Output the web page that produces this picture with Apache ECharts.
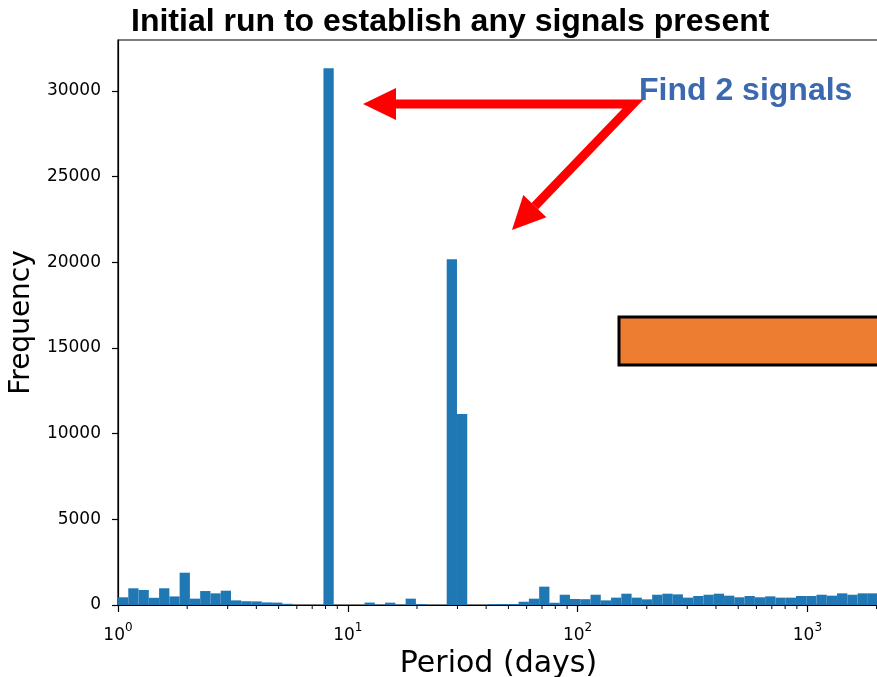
<!DOCTYPE html>
<html>
<head>
<meta charset="utf-8">
<script src="https://cdn.jsdelivr.net/npm/echarts@6/dist/echarts.min.js"></script>
<style>
  html, body { margin: 0; padding: 0; background: #ffffff; }
  #chart { width: 877px; height: 677px; }
</style>
</head>
<body>
<div id="chart"></div>
<script>
// Histogram of detected periods, log-spaced bins beginning at 1 day.
const LOG_BIN_WIDTH = 0.0447;          // width of each bin, in decades
const binCounts = [
  450, 975, 875, 420, 975, 500, 1885, 370, 815, 680,
  835, 270, 220, 210, 150, 140, 70, 0, 0, 0,
  31330, 0, 0, 0, 140, 10, 135, 10, 370, 50,
  0, 0, 20180, 11150, 0, 0, 50, 55, 60, 190,
  370, 1070, 130, 600, 350, 340, 600, 270, 430, 660,
  430, 330, 600, 660, 620, 430, 525, 600, 660, 545,
  450, 525, 450, 505, 430, 430, 525, 525, 600, 545,
  680, 600, 680, 680
];
const majorTickExponents = [0, 1, 2, 3];
const minorTickPeriods = [
  2, 3, 4, 5, 6, 7, 8, 9,
  20, 30, 40, 50, 60, 70, 80, 90,
  200, 300, 400, 500, 600, 700, 800, 900,
  2000
];
const yTickValues = [0, 5000, 10000, 15000, 20000, 25000, 30000];
const X_MAX_DECADES = 3.3116;
const Y_MAX = 32980;

const titleText = 'Initial run to establish any signals present';
const noteText = 'Find 2 signals';

// [logStart, logEnd, count] per bin
const binTable = binCounts.map((c, i) => [i * LOG_BIN_WIDTH, (i + 1) * LOG_BIN_WIDTH, c]);
const minorTickTable = minorTickPeriods.map(p => [Math.log10(p), 0]);

const chart = echarts.init(document.getElementById('chart'), null, { renderer: 'canvas' });

const tickFont = 'DejaVu Sans';
const BAR_BLUE = '#1f77b4';
const ARROW_RED = '#ff0000';

// Arrow geometry (annotation overlay)
const joint = [633, 104];
const tip1 = [363, 104];
const tip2 = [512, 230];
const headLen = 33, headHalf = 16;
function headFor(from, tip) {
  const dx = tip[0] - from[0], dy = tip[1] - from[1];
  const L = Math.hypot(dx, dy);
  const ux = dx / L, uy = dy / L;
  const bx = tip[0] - headLen * ux, by = tip[1] - headLen * uy;
  const nx = -uy, ny = ux;
  return {
    base: [bx, by],
    tri: [[tip[0], tip[1]], [bx + headHalf * nx, by + headHalf * ny], [bx - headHalf * nx, by - headHalf * ny]]
  };
}
const h1 = headFor(joint, tip1);
const h2 = headFor(joint, tip2);

const option = {
  animation: false,
  backgroundColor: '#ffffff',
  title: {
    text: titleText,
    left: 126,
    top: 1,
    textStyle: { fontFamily: 'Liberation Sans', fontWeight: 'bold', fontSize: 32, color: '#000000' }
  },
  grid: {
    left: 118, top: 40, right: -2, bottom: 72,
    outerBoundsMode: 'none',
    containLabel: false,
    show: true, borderColor: '#000000', borderWidth: 1.2, backgroundColor: 'transparent'
  },
  xAxis: {
    type: 'value',
    min: 0,
    max: X_MAX_DECADES,
    interval: 1,
    name: 'Period (days)',
    nameLocation: 'middle',
    nameGap: 42,
    nameTextStyle: { fontFamily: tickFont, fontSize: 30, color: '#000000' },
    axisLine: { show: true, lineStyle: { color: '#000000', width: 1.2 } },
    axisTick: { show: true, length: 7, lineStyle: { color: '#000000', width: 1.2 }, customValues: majorTickExponents },
    splitLine: { show: false },
    axisLabel: {
      margin: 17,
      customValues: majorTickExponents,
      formatter: v => '{b|10}{s|' + Math.round(v) + '}',
      rich: {
        b: { fontFamily: tickFont, fontSize: 17, color: '#000000', lineHeight: 22, verticalAlign: 'bottom' },
        s: { fontFamily: tickFont, fontSize: 12, color: '#000000', lineHeight: 12, verticalAlign: 'top' }
      }
    }
  },
  yAxis: {
    type: 'value',
    min: 0,
    max: Y_MAX,
    interval: 5000,
    name: 'Frequency',
    nameLocation: 'middle',
    nameGap: 71,
    nameTextStyle: { fontFamily: tickFont, fontSize: 28, color: '#000000' },
    axisLine: { show: true, lineStyle: { color: '#000000', width: 1.2 } },
    axisTick: { show: true, length: 6, lineStyle: { color: '#000000', width: 1.2 }, customValues: yTickValues },
    splitLine: { show: false },
    axisLabel: {
      margin: 17,
      customValues: yTickValues,
      formatter: v => String(Math.round(v)),
      fontFamily: tickFont, fontSize: 17, color: '#000000'
    }
  },
  series: [
    {
      type: 'custom',
      name: 'histogram',
      data: binTable,
      encode: { x: [0, 1], y: 2 },
      clip: true,
      renderItem: (params, api) => {
        const p0 = api.coord([api.value(0), api.value(2)]);
        const p1 = api.coord([api.value(1), 0]);
        return {
          type: 'rect',
          shape: { x: p0[0], y: p0[1], width: p1[0] - p0[0], height: p1[1] - p0[1] },
          style: { fill: BAR_BLUE }
        };
      },
      silent: true
    },
    {
      type: 'custom',
      name: 'minorTicks',
      data: minorTickTable,
      encode: { x: 0, y: 1 },
      clip: false,
      z: 5,
      renderItem: (params, api) => {
        const p = api.coord([api.value(0), 0]);
        return {
          type: 'line',
          shape: { x1: p[0], y1: p[1], x2: p[0], y2: p[1] + 4 },
          style: { stroke: '#000000', lineWidth: 1 }
        };
      },
      silent: true
    }
  ],
  graphic: [
    {
      type: 'rect',
      z: 10,
      shape: { x: 619, y: 317, width: 300, height: 48 },
      style: { fill: '#ed7d31', stroke: '#000000', lineWidth: 3 }
    },
    {
      type: 'polyline',
      z: 10,
      shape: { points: [h1.base, joint, h2.base] },
      style: { stroke: ARROW_RED, lineWidth: 9, fill: null, lineJoin: 'miter' }
    },
    { type: 'polygon', z: 10, shape: { points: h1.tri }, style: { fill: ARROW_RED } },
    { type: 'polygon', z: 10, shape: { points: h2.tri }, style: { fill: ARROW_RED } },
    {
      type: 'text',
      z: 11,
      x: 639,
      y: 91,
      style: {
        text: noteText,
        fontFamily: 'Liberation Sans', fontWeight: 'bold', fontSize: 32,
        fill: '#3c68b0', textVerticalAlign: 'middle', textAlign: 'left'
      }
    }
  ]
};

chart.setOption(option);
</script>
</body>
</html>
